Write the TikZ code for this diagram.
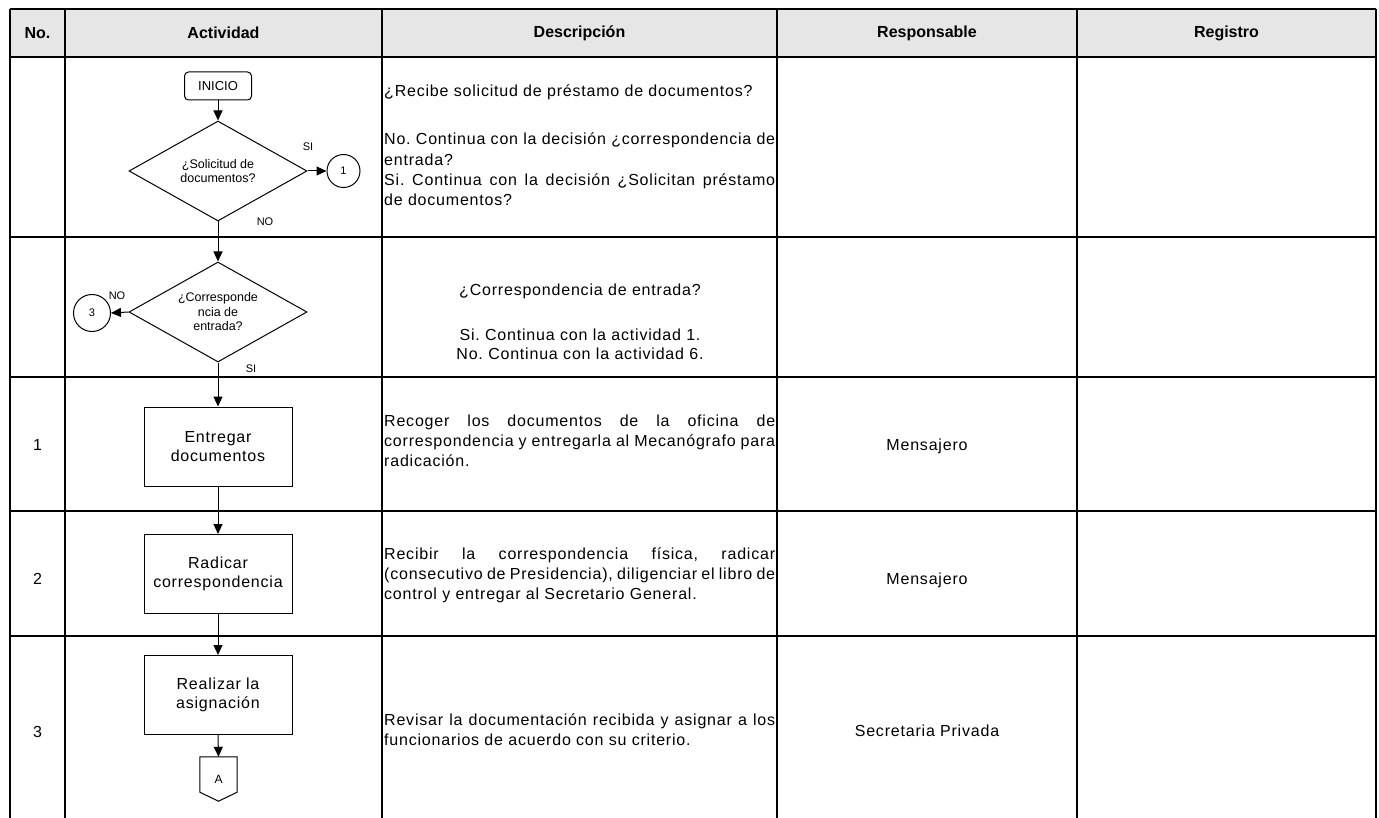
\documentclass[tikz,border=0pt]{standalone}
\usepackage{fontspec}
\setmainfont{Liberation Sans}
\newfontfamily\df{Liberation Sans}[LetterSpace=5]
\usetikzlibrary{shapes.geometric,arrows.meta,calc}
\definecolor{hdrgray}{HTML}{E6E6E6}
\frenchspacing
\begin{document}
\begin{tikzpicture}[x=1pt,y=-1pt,
  tbl/.style={line width=2.4pt},
  fl/.style={line width=1pt},
  arr/.style={fl,-{Triangle[length=10pt,width=9pt]}},
  actbox/.style={draw,line width=1pt,minimum width=148pt,minimum height=79pt,align=center,inner sep=0pt,font=\df\frenchspacing\fontsize{16}{19.5}\selectfont},
  startbox/.style={draw,line width=1pt,rounded corners=4pt,minimum width=67pt,minimum height=28pt,inner sep=0pt,font=\fontsize{13}{15}\selectfont},
  dec/.style={draw,line width=1pt,diamond,aspect=1.78,minimum width=178pt,minimum height=100pt,inner sep=0pt,align=center,font=\fontsize{12.5}{14.5}\selectfont},
  conn/.style={draw,line width=1pt,circle,inner sep=0pt,font=\fontsize{11}{13}\selectfont},
  lbl/.style={inner sep=0pt,font=\fontsize{11}{13}\selectfont},
  desc/.style={anchor=base west,text width=391pt,align=justify,inner sep=0pt,font=\df\frenchspacing\fontsize{16}{20.3}\selectfont},
  hdr/.style={inner sep=0pt,font=\bfseries\fontsize{16}{19}\selectfont},
  cell/.style={inner sep=0pt,font=\df\fontsize{16}{19}\selectfont}]
\useasboundingbox (0,0) rectangle (1379,818);
% header background
\fill[hdrgray] (10,9) rectangle (1376,57);
% table lines
\foreach \yy in {9,57,237,377,511,636}{\draw[tbl] (10,\yy) -- (1376,\yy);}
\foreach \xx in {10,65,382,777,1077,1376}{\draw[tbl] (\xx,9) -- (\xx,818);}
% header texts
\node[hdr] (hno) at (37.5,33) {No.};
\node[hdr] (hact) at (223.5,33) {Actividad};
\node[hdr] (hdesc) at (579.5,33) {Descripción};
\node[hdr] (hresp) at (927,33) {Responsable};
\node[hdr] (hreg) at (1226.5,33) {Registro};
% row numbers
\node[cell] (n1) at (37.5,445) {1};
\node[cell] (n2) at (37.5,579) {2};
\node[cell] (n3) at (37.5,732) {3};
% flowchart
\node[startbox] (inicio) at (218,86) {INICIO};
\node[dec] (d1) at (218,171) {¿Solicitud de\\documentos?};
\node[conn,minimum size=33pt] (c1) at (343.5,171) {1};
\node[dec] (d2) at (218,312) {¿Corresponde\\ncia de\\entrada?};
\node[conn,minimum size=37pt] (c3) at (92,313) {3};
\node[actbox] (b1) at (218,446.5) {Entregar\\documentos};
\node[actbox] (b2) at (218,574) {Radicar\\correspondencia};
\node[actbox] (b3) at (218,695) {Realizar la\\asignación};
\node[inner sep=0pt,minimum width=37pt,minimum height=44pt,font=\fontsize{12}{14}\selectfont] (offA) at (218.5,779) {A};
\draw[fl] (offA.north west) -- (offA.north east) -- ([yshift=9pt]offA.south east) -- (offA.south) -- ([yshift=9pt]offA.south west) -- cycle;
% labels
\node[lbl] (lsi1) at (308,147) {SI};
\node[lbl] (lno1) at (265,222) {NO};
\node[lbl] (lno2) at (117,296) {NO};
\node[lbl] (lsi2) at (251,369) {SI};
% connectors
\draw[arr] (inicio.south) -- (d1.north);
\draw[arr] (d1.east) -- (c1.west);
\draw[arr] (d1.south) -- (d2.north);
\draw[arr] (d2.west) -- (c3.east);
\draw[arr] (d2.south) -- (b1.north);
\draw[arr] (b1.south) -- (b2.north);
\draw[arr] (b2.south) -- (b3.north);
\draw[arr] (b3.south) -- (offA.north);
% descriptions
\node[desc] (t1) at (384,97) {¿Recibe solicitud de préstamo de documentos?\par\vspace{27.5pt}No. Continua con la decisión ¿correspondencia de\linebreak entrada?\par Si. Continua con la decisión ¿Solicitan préstamo\linebreak de documentos?};
\node[anchor=base,text width=391pt,align=center,inner sep=0pt,font=\df\frenchspacing\fontsize{16}{18.5}\selectfont] (t2) at (580,296) {¿Correspondencia de entrada?\\[26.5pt]Si. Continua con la actividad 1.\\No. Continua con la actividad 6.};
\node[desc] (t3) at (384,426) {Recoger los documentos de la oficina de\linebreak correspondencia y entregarla al Mecanógrafo para\linebreak radicación.};
\node[desc] (t4) at (384,559) {Recibir la correspondencia física, radicar\linebreak (consecutivo de Presidencia), diligenciar el libro de\linebreak control y entregar al Secretario General.};
\node[desc] (t5) at (384,725) {Revisar la documentación recibida y asignar a los\linebreak funcionarios de acuerdo con su criterio.};
% responsables
\node[cell] (r1) at (927,446) {Mensajero};
\node[cell] (r2) at (927,580) {Mensajero};
\node[cell] (r3) at (927,731) {Secretaria Privada};
\end{tikzpicture}
\end{document}
